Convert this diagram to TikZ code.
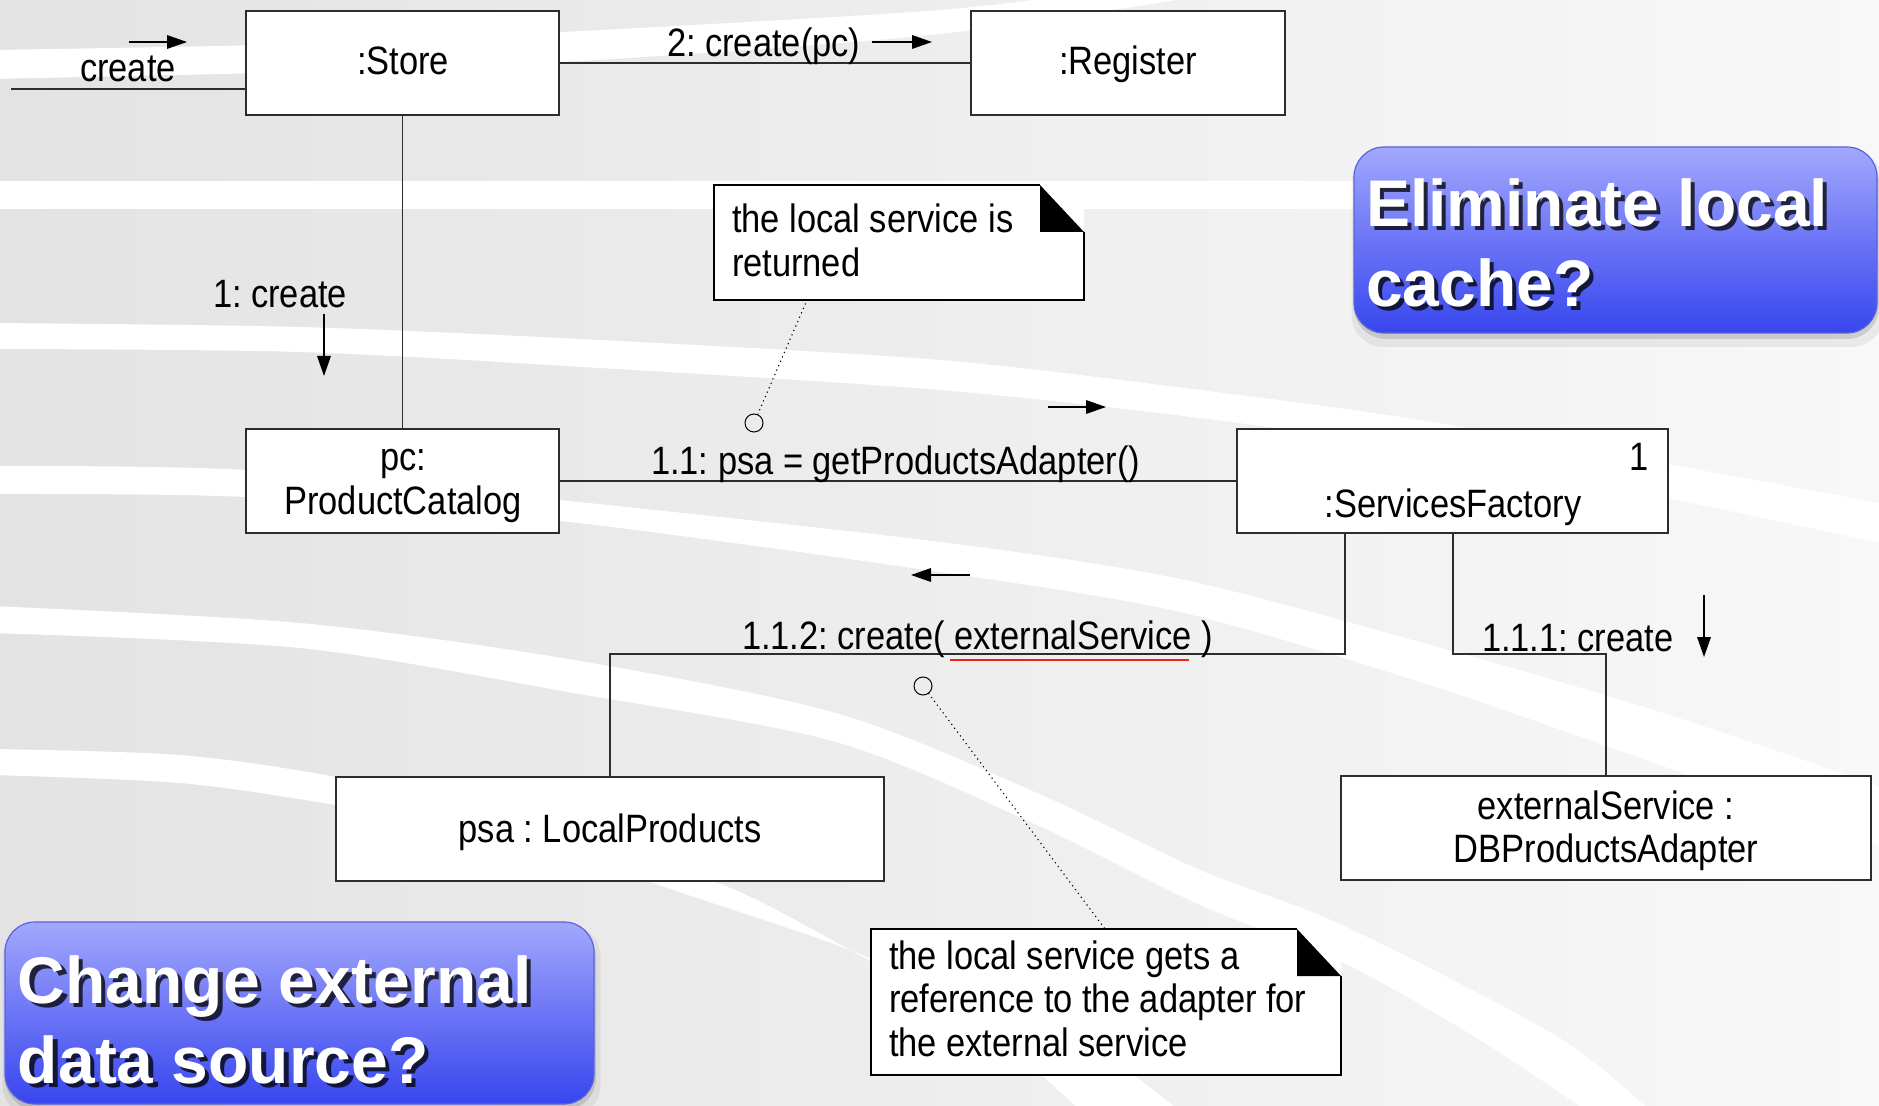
\documentclass[tikz,border=0pt]{standalone}
\usepackage{fontspec}
\setmainfont{Liberation Sans}
\newfontfamily\dgfont[FakeStretch=0.87]{Liberation Sans}
\usetikzlibrary{arrows.meta}
\definecolor{bgL}{RGB}{227,227,227}
\definecolor{bgR}{RGB}{248,248,248}
\definecolor{cTop}{RGB}{162,168,252}
\definecolor{cMid}{RGB}{108,117,246}
\definecolor{cBot}{RGB}{55,70,238}
\definecolor{cEdge}{RGB}{90,98,220}
\definecolor{lineC}{RGB}{45,45,45}
\definecolor{uRed}{RGB}{232,40,20}
\begin{document}
\frenchspacing
\begin{tikzpicture}[x=0.5pt,y=-0.5pt,
 every node/.style={inner sep=0pt,outer sep=0pt},
 objbox/.style={draw=lineC,line width=0.8pt,fill=white,minimum height=52pt},
 notebox/.style={fill=white},
 noteedge/.style={draw=black,line width=0.6pt},
 dtext/.style={font=\dgfont\fontsize{19.8}{21.8}\selectfont\frenchspacing,text=black},
 conn/.style={draw=lineC,line width=0.65pt},
 msgarrow/.style={draw=black,line width=0.7pt,-{Triangle[length=10pt,width=6.8pt]}},
 dotline/.style={draw=black,line width=0.55pt,dash pattern=on 0.6pt off 1.8pt},
 anchorcircle/.style={draw=black,circle,minimum size=9pt,line width=0.5pt},
 calloutbox/.style={rounded corners=15pt,top color=cTop,bottom color=cBot,middle color=cMid,draw=cEdge,line width=0.6pt},
 calloutshadow/.style={rounded corners=16pt,fill=black},
 cotext/.style={font=\bfseries\fontsize{33}{40}\selectfont,text=white},
 cotextshadow/.style={font=\bfseries\fontsize{33}{40}\selectfont,text=black,opacity=0.75},
]
\useasboundingbox (0,0) rectangle (1879,1106);
\begin{scope}
\clip (0,0) rectangle (1879,1106);
\fill[left color=bgL,right color=bgR] (0,0) rectangle (1879,1106);
% decorative white stripes
\fill[white] plot[smooth] coordinates {(-10,50) (300,44) (564,32) (940,10) (1120,-12)}
  -- plot[smooth] coordinates {(1250,-12) (940,34) (564,62) (300,72) (-10,79)} -- cycle;
\fill[white] (-10,181) rectangle (1360,209);
\fill[white] plot[smooth] coordinates {(-10,323) (300,327) (600,340) (940,360) (1200,390) (1420,420) (1700,470) (1890,505)}
  -- plot[smooth] coordinates {(1890,545) (1700,505) (1420,450) (1200,418) (940,390) (600,368) (300,352) (-10,349)} -- cycle;
\fill[white] plot[smooth] coordinates {(-10,466) (246,470) (560,500) (940,542) (1180,579) (1420,642) (1660,712) (1890,790)}
  -- plot[smooth] coordinates {(1890,850) (1660,765) (1420,682) (1180,612) (940,572) (560,521) (246,497) (-10,494)} -- cycle;
\fill[white] plot[smooth] coordinates {(-10,606) (300,623) (568,659) (836,713) (1037,793) (1200,870) (1342,925) (1558,1037) (1660,1120)}
  -- plot[smooth] coordinates {(1600,1120) (1480,1040) (1342,962) (1200,905) (1037,825) (836,742) (568,692) (300,648) (-10,633)} -- cycle;
\fill[white] plot[smooth] coordinates {(-10,749) (180,755) (336,777) (500,815) (640,878) (869,958) (1000,1040) (1090,1120)}
  -- plot[smooth] coordinates {(1190,1120) (1080,1040) (900,975) (715,882) (500,835) (336,805) (180,783) (-10,775)} -- cycle;
\end{scope}

% object boxes
\node[objbox,minimum width=156.5pt] (store) at (402.5,63) {};
\node[objbox,minimum width=157pt] (register) at (1128,63) {};
\node[objbox,minimum width=156.5pt] (pc) at (402.5,481) {};
\node[objbox,minimum width=215.5pt] (sf) at (1452.5,481) {};
\node[objbox,minimum width=274pt] (lp) at (610,829) {};
\node[objbox,minimum width=265pt] (db) at (1606,828) {};

\node[dtext,anchor=base] (storeT) at (403,75) {:Store};
\node[dtext,anchor=base] (registerT) at (1128,75) {:Register};
\node[dtext,anchor=base] (pcT) at (403,471) {\parbox[t]{150pt}{\centering pc:\\ProductCatalog}};
\node[dtext,anchor=base] (sfT) at (1453,518) {:ServicesFactory};
\node[dtext,anchor=base] (sfMult) at (1639,471) {1};
\node[dtext,anchor=base] (lpT) at (610,842) {psa : LocalProducts};
\node[dtext,anchor=base] (dbT) at (1606,819) {\parbox[t]{250pt}{\centering externalService :\\DBProductsAdapter}};

% links
\coordinate (src) at (11,89);
\draw[conn] (src) -- (src -| store.west);
\draw[conn] (store.east) -- (register.west);
\draw[conn] (store.south) -- (pc.north);
\draw[conn] (pc.east) -- (sf.west);
\coordinate (j1) at (1345,654);
\draw[conn] (j1 |- sf.south) -- (j1) -- (j1 -| lp.north) -- (lp.north);
\coordinate (j2) at (1453,654);
\draw[conn] (j2 |- sf.south) -- (j2) -- (j2 -| db.north) -- (db.north);

% message labels
\node[dtext,anchor=base west] (lblCreate) at (80,82) {create};
\node[dtext,anchor=base west] (lbl2) at (667,57) {2: create(pc)};
\node[dtext,anchor=base west] (lbl1) at (213,308) {1: create};
\node[dtext,anchor=base west] (lbl11) at (651,475) {1.1: psa = getProductsAdapter()};
\node[dtext,anchor=base west] (lbl112) at (742,649) {1.1.2: create( externalService )};
\node[dtext,anchor=base west] (lbl111) at (1482,651) {1.1.1: create};
\coordinate (ul1) at (950,660); \coordinate (ul2) at (1189,660);
\draw[uRed,line width=1.2pt] (ul1) -- (ul2);

% message arrows
\coordinate (a1s) at (129,42); \coordinate (a1e) at (187,42);
\draw[msgarrow] (a1s) -- (a1e);
\coordinate (a2s) at (872,42); \coordinate (a2e) at (932,42);
\draw[msgarrow] (a2s) -- (a2e);
\coordinate (a3s) at (324,314); \coordinate (a3e) at (324,376);
\draw[msgarrow] (a3s) -- (a3e);
\coordinate (a4s) at (1048,407); \coordinate (a4e) at (1106,407);
\draw[msgarrow] (a4s) -- (a4e);
\coordinate (a5s) at (970,575); \coordinate (a5e) at (911,575);
\draw[msgarrow] (a5s) -- (a5e);
\coordinate (a6s) at (1704,595); \coordinate (a6e) at (1704,657);
\draw[msgarrow] (a6s) -- (a6e);

% notes
\node[notebox,minimum width=185pt,minimum height=57.5pt] (note1) at (899,242.5) {};
\draw[noteedge] ([xshift=-22pt]note1.north east) -- (note1.north west) -- (note1.south west) -- (note1.south east) -- ([yshift=-23.5pt]note1.north east);
\fill[black] ([xshift=-22pt]note1.north east) -- ([xshift=-22pt,yshift=-23.5pt]note1.north east) -- ([yshift=-23.5pt]note1.north east) -- cycle;
\node[dtext,anchor=base west] (note1T) at (732,233) {\parbox[t]{180pt}{\raggedright the local service is\\returned}};

\node[notebox,minimum width=235pt,minimum height=73pt] (note2) at (1106,1002) {};
\draw[noteedge] ([xshift=-22pt]note2.north east) -- (note2.north west) -- (note2.south west) -- (note2.south east) -- ([yshift=-23.5pt]note2.north east);
\fill[black] ([xshift=-22pt]note2.north east) -- ([xshift=-22pt,yshift=-23.5pt]note2.north east) -- ([yshift=-23.5pt]note2.north east) -- cycle;
\node[dtext,anchor=base west] (note2T) at (889,969) {\parbox[t]{230pt}{\raggedright the local service gets a\\reference to the adapter for\\the external service}};

\node[anchorcircle] (c1) at (754,423) {};
\coordinate (n1p) at (807,300);
\draw[dotline] (c1) -- (n1p);
\node[anchorcircle] (c2) at (923,686) {};
\coordinate (n2p) at (1105,929);
\draw[dotline] (c2) -- (n2p);

% callouts
\node[calloutshadow,opacity=0.06,minimum width=266pt,minimum height=98pt] (cb1sh1) at (1617.5,249) {};
\node[calloutshadow,opacity=0.12,minimum width=262.5pt,minimum height=94pt] (cb1sh2) at (1616.5,245) {};
\node[calloutbox,minimum width=261.5pt,minimum height=93pt] (cb1) at (1615.5,240) {};
\node[cotextshadow,anchor=base west] (cb1ts) at (1370,231) {\parbox[t]{260pt}{Eliminate local\\cache?}};
\node[cotext,anchor=base west] (cb1t) at (1366,227) {\parbox[t]{260pt}{Eliminate local\\cache?}};

\node[calloutshadow,opacity=0.06,minimum width=299pt,minimum height=96pt] (cb2sh1) at (301.5,1021) {};
\node[calloutshadow,opacity=0.12,minimum width=295.5pt,minimum height=92pt] (cb2sh2) at (300.5,1018) {};
\node[calloutbox,minimum width=294.5pt,minimum height=91pt] (cb2) at (299.5,1013) {};
\node[cotextshadow,anchor=base west] (cb2ts) at (22,1007) {\parbox[t]{290pt}{Change external\\data source?}};
\node[cotext,anchor=base west] (cb2t) at (18,1003) {\parbox[t]{290pt}{Change external\\data source?}};
\end{tikzpicture}
\end{document}
